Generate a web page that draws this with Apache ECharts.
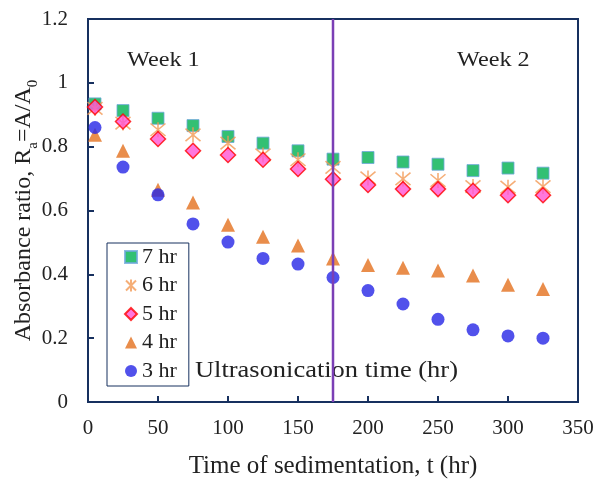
<!DOCTYPE html>
<html><head><meta charset="utf-8">
<script src="https://cdn.jsdelivr.net/npm/echarts@6/dist/echarts.min.js"></script>
<style>html,body{margin:0;padding:0;background:#fff}#c{width:596px;height:480px}</style>
</head><body><div id="c"></div>
<script>
const times = [5, 25, 50, 75, 100, 125, 150, 175, 200, 225, 250, 275, 300, 325];
const hr7 = [0.934, 0.913, 0.889, 0.866, 0.832, 0.811, 0.787, 0.761, 0.766, 0.752, 0.745, 0.725, 0.733, 0.717];
const hr6 = [0.920, 0.874, 0.853, 0.837, 0.811, 0.774, 0.759, 0.735, 0.702, 0.699, 0.694, 0.675, 0.673, 0.675];
const hr5 = [0.924, 0.879, 0.824, 0.787, 0.774, 0.759, 0.730, 0.698, 0.680, 0.667, 0.667, 0.662, 0.648, 0.648];
const hr4 = [0.837, 0.787, 0.665, 0.625, 0.555, 0.518, 0.490, 0.450, 0.429, 0.421, 0.412, 0.396, 0.367, 0.354];
const hr3 = [0.860, 0.736, 0.649, 0.558, 0.501, 0.450, 0.432, 0.390, 0.349, 0.307, 0.259, 0.226, 0.207, 0.200];
const seriesNames = ['7 hr', '6 hr', '5 hr', '4 hr', '3 hr'];
const weekDivider = 175;
const xTicks = {min: 0, max: 350, interval: 50};
const yTicks = {min: 0, max: 1.2, interval: 0.2};

const pair = arr => times.map((t, i) => [t, arr[i]]);
const FONT = '"Liberation Serif", "DejaVu Serif", serif';
const NAVY = '#17305f';
const TXT = '#222';
const starPath = 'path://M1,1L11,11M11,1L1,11M6,0L6,12';

const chart = echarts.init(document.getElementById('c'), null, {renderer: 'canvas'});
chart.setOption({
  animation: false,
  backgroundColor: '#fff',
  textStyle: {fontFamily: FONT},
  grid: {left: 88, right: 18, top: 19, bottom: 78, containLabel: false, outerBoundsMode: 'none',
         show: true, borderColor: NAVY, borderWidth: 2, backgroundColor: 'transparent'},
  xAxis: {
    type: 'value', min: xTicks.min, max: xTicks.max, interval: xTicks.interval,
    name: 'Time of sedimentation, t (hr)', nameLocation: 'middle', nameGap: 52, nameMoveOverlap: false,
    nameTextStyle: {fontFamily: FONT, fontSize: 25, color: TXT},
    axisLine: {show: true, lineStyle: {color: NAVY, width: 2}},
    axisTick: {show: true, inside: true, length: 6, lineStyle: {color: NAVY, width: 2}},
    axisLabel: {fontFamily: FONT, fontSize: 21, color: TXT, margin: 16},
    splitLine: {show: false}
  },
  yAxis: {
    type: 'value', min: yTicks.min, max: yTicks.max, interval: yTicks.interval,
    name: '{a|Absorbance ratio, R}{s|a}{a|=A/A}{s|0}', nameLocation: 'middle', nameRotate: 90, nameGap: 52,
    nameMoveOverlap: false,
    nameTextStyle: {
      fontFamily: FONT, fontSize: 24, color: TXT,
      rich: {
        a: {fontFamily: FONT, fontSize: 24, color: TXT, verticalAlign: 'bottom'},
        s: {fontFamily: FONT, fontSize: 15, color: TXT, verticalAlign: 'bottom', padding: [0, 0, -5, 0]}
      }
    },
    axisLine: {show: true, lineStyle: {color: NAVY, width: 2}},
    axisTick: {show: true, inside: true, length: 6, lineStyle: {color: NAVY, width: 2}},
    axisLabel: {fontFamily: FONT, fontSize: 21, color: TXT, margin: 20},
    splitLine: {show: false}
  },
  legend: {
    orient: 'vertical', left: 107, top: 243,
    data: seriesNames,
    itemWidth: 12, itemHeight: 12, itemGap: 6.5,
    padding: [3, 12, 4, 17],
    borderColor: NAVY, borderWidth: 1, backgroundColor: '#fff',
    textStyle: {fontFamily: FONT, fontSize: 22, color: TXT, lineHeight: 22}
  },
  graphic: [
    {type: 'text', x: 127, y: 60, scaleX: 1.1, style: {text: 'Week 1', font: '22px ' + FONT, fill: TXT, verticalAlign: 'middle'}},
    {type: 'text', x: 457, y: 60, scaleX: 1.1, style: {text: 'Week 2', font: '22px ' + FONT, fill: TXT, verticalAlign: 'middle'}},
    {type: 'text', x: 195, y: 371, scaleX: 1.15, style: {text: 'Ultrasonication time (hr)', font: '23px ' + FONT, fill: TXT, verticalAlign: 'middle'}}
  ],
  series: [
    {name: seriesNames[0], type: 'scatter', data: pair(hr7), symbol: 'rect', symbolSize: 12,
     itemStyle: {color: '#00B050', borderColor: '#6FA8DC', borderWidth: 1}, z: 2},
    {name: seriesNames[1], type: 'scatter', data: pair(hr6), symbol: starPath, symbolSize: 15,
     itemStyle: {color: '#F39A55', borderColor: '#F39A55', borderWidth: 1.6}, z: 3},
    {name: seriesNames[2], type: 'scatter', data: pair(hr5), symbol: 'diamond', symbolSize: 15,
     itemStyle: {color: '#FF55D5', borderColor: '#FF0000', borderWidth: 1.5}, z: 4},
    {name: seriesNames[3], type: 'scatter', data: pair(hr4), symbol: 'triangle', symbolSize: 14,
     itemStyle: {color: '#E3701E'}, z: 5},
    {name: seriesNames[4], type: 'scatter', data: pair(hr3), symbol: 'circle', symbolSize: 13,
     itemStyle: {color: '#2626E6'}, z: 6},
    {name: 'divider', type: 'line', data: [[weekDivider, yTicks.min], [weekDivider, yTicks.max]],
     symbol: 'none', lineStyle: {color: '#7B3FB5', width: 2.5}, z: 8, silent: true}
  ]
});
</script></body></html>
